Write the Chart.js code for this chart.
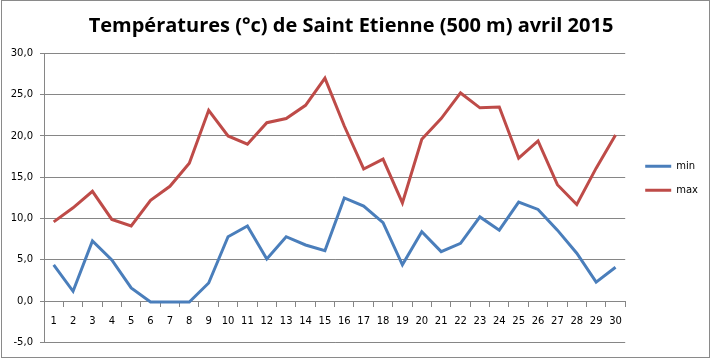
<!DOCTYPE html>
<html>
<head>
<meta charset="utf-8">
<script src="https://cdn.jsdelivr.net/npm/chart.js@4/dist/chart.umd.min.js"></script>
<style>
  html, body { margin: 0; padding: 0; background: #fff; }
  #wrap { width: 712px; height: 362px; }
</style>
</head>
<body>
<div id="wrap"><canvas id="tempChart" width="712" height="362"></canvas></div>
<script>
// days of April 2015
const days = ['1','2','3','4','5','6','7','8','9','10','11','12','13','14','15',
              '16','17','18','19','20','21','22','23','24','25','26','27','28','29','30'];

// daily minimum temperatures (°C)
const minTemps = [4.4, 1.2, 7.3, 5.0, 1.6, -0.1, -0.1, -0.1, 2.2, 7.8,
                  9.1, 5.1, 7.8, 6.8, 6.1, 12.5, 11.5, 9.5, 4.4, 8.4,
                  6.0, 7.0, 10.2, 8.6, 12.0, 11.1, 8.6, 5.8, 2.3, 4.1];

// daily maximum temperatures (°C)
const maxTemps = [9.6, 11.3, 13.3, 9.9, 9.1, 12.2, 13.9, 16.7, 23.1, 20.0,
                  19.0, 21.6, 22.1, 23.7, 27.0, 21.2, 16.0, 17.2, 11.9, 19.6,
                  22.1, 25.2, 23.4, 23.5, 17.3, 19.4, 14.1, 11.7, 16.1, 20.1];

const yMin = -5;
const yMax = 30;
const yStep = 5;

const gridGrey = '#868686';
const labelFont = { family: 'DejaVu Sans', size: 10 };

// outer frame of the chart, like the spreadsheet chart border
const frame = {
    id: 'frame',
    beforeDraw(chart) {
        const ctx = chart.ctx;
        ctx.save();
        ctx.strokeStyle = '#8a8a8a';
        ctx.lineWidth = 1;
        ctx.strokeRect(1.5, 0.5, 708, 357);
        ctx.restore();
    }
};

// move the legend a bit: right of the plot, a little below the top
const legendNudge = {
    id: 'legendNudge',
    afterLayout(chart) {
        const lg = chart.legend;
        lg.left += 6;
        lg.right += 6;
        lg.top += 7;
        lg.bottom += 7;
    }
};

const ctx = document.getElementById('tempChart').getContext('2d');
const tempChart = new Chart(ctx, {
    type: 'line',
    data: {
        labels: days,
        datasets: [
            {
                label: 'min',
                data: minTemps,
                borderColor: '#4A7EBB',
                backgroundColor: '#4A7EBB',
                borderWidth: 3,
                pointRadius: 0,
                tension: 0
            },
            {
                label: 'max',
                data: maxTemps,
                borderColor: '#BE4B48',
                backgroundColor: '#BE4B48',
                borderWidth: 3,
                pointRadius: 0,
                tension: 0
            }
        ]
    },
    options: {
        responsive: false,
        animation: false,
        layout: {
            padding: { left: 0, right: 10, top: 0, bottom: 19.5 }
        },
        plugins: {
            title: {
                display: true,
                text: 'Températures (°c) de Saint Etienne (500 m) avril 2015',
                color: '#000',
                font: { family: 'Open Sans', size: 20, weight: 'bold', lineHeight: 1.2 },
                padding: { top: 14, bottom: 15.3 }
            },
            legend: {
                position: 'right',
                align: 'center',
                labels: {
                    color: '#000',
                    font: labelFont,
                    usePointStyle: true,
                    pointStyle: 'line',
                    pointStyleWidth: 26,
                    padding: 14
                }
            },
            tooltip: { enabled: false }
        },
        scales: {
            x: {
                type: 'category',
                position: { y: 0 },
                offset: true,
                grid: {
                    offset: true,
                    drawOnChartArea: false,
                    drawTicks: true,
                    tickLength: 5,
                    color: gridGrey
                },
                border: { display: true, color: gridGrey },
                ticks: {
                    color: '#000',
                    font: labelFont,
                    autoSkip: false,
                    maxRotation: 0,
                    padding: 9
                }
            },
            y: {
                min: yMin,
                max: yMax,
                afterFit: scale => { scale.width = 44; },
                grid: {
                    color: gridGrey,
                    tickLength: 4
                },
                border: { display: true, color: gridGrey },
                ticks: {
                    stepSize: yStep,
                    color: '#000',
                    font: labelFont,
                    padding: 7,
                    callback: v => v.toFixed(1).replace('.', ',')
                }
            }
        }
    },
    plugins: [frame, legendNudge]
});
</script>
</body>
</html>
